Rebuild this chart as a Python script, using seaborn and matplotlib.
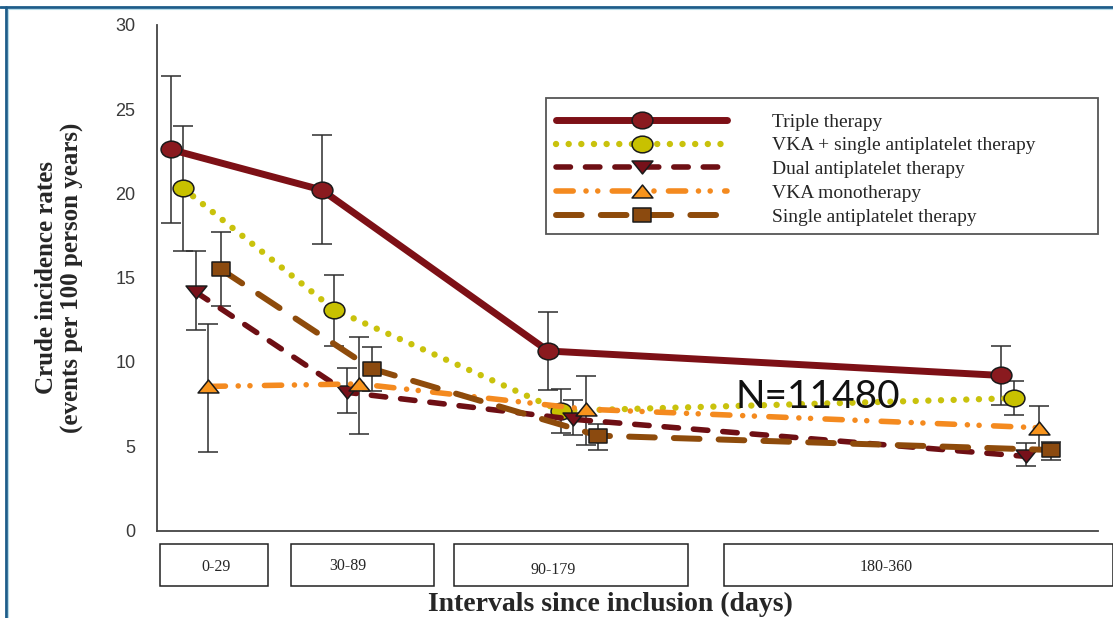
import matplotlib
matplotlib.use("Agg")
import matplotlib.pyplot as plt
from matplotlib.path import Path
from matplotlib.transforms import Affine2D
from matplotlib.lines import Line2D
from matplotlib.patches import Rectangle
import numpy as np
import pandas as pd
import seaborn as sns

# ---------------------------------------------------------------- data
intervals = ["0-29", "30-89", "90-179", "180-360"]
interval_pos = [0.0, 1.0, 2.5, 5.5]

therapies = [
    "Triple therapy",
    "VKA + single antiplatelet therapy",
    "Dual antiplatelet therapy",
    "VKA monotherapy",
    "Single antiplatelet therapy",
]

triple_rate = [22.6, 20.2, 10.65, 9.2]
triple_low = [18.25, 17.0, 8.33, 7.43]
triple_high = [26.97, 23.45, 12.94, 10.96]

vka_sapt_rate = [20.3, 13.1, 7.1, 7.85]
vka_sapt_low = [16.57, 10.96, 5.77, 6.87]
vka_sapt_high = [23.97, 15.17, 8.39, 8.85]

dapt_rate = [14.15, 8.2, 6.6, 4.4]
dapt_low = [11.89, 6.95, 5.65, 3.85]
dapt_high = [16.57, 9.62, 7.74, 5.17]

vka_mono_rate = [8.55, 8.7, 7.2, 6.1]
vka_mono_low = [4.68, 5.73, 5.06, 4.8]
vka_mono_high = [12.27, 11.46, 9.16, 7.39]

sapt_rate = [15.5, 9.6, 5.63, 4.78]
sapt_low = [13.31, 8.3, 4.78, 4.18]
sapt_high = [17.72, 10.9, 6.32, 5.27]

rates = [triple_rate, vka_sapt_rate, dapt_rate, vka_mono_rate, sapt_rate]
lows = [triple_low, vka_sapt_low, dapt_low, vka_mono_low, sapt_low]
highs = [triple_high, vka_sapt_high, dapt_high, vka_mono_high, sapt_high]

n_total = 11480

# ---------------------------------------------------------------- markers
def closed(verts):
    verts = list(verts) + [verts[0]]
    return Path(verts, closed=True)

ellipse = Affine2D().scale(1.0, 0.8).transform_path(Path.unit_circle())
tri_down = closed([(-1.0, 0.62), (1.0, 0.62), (0.0, -0.62)])
tri_up = closed([(-1.0, -0.62), (1.0, -0.62), (0.0, 0.62)])
square = closed([(-1.0, -0.78), (1.0, -0.78), (1.0, 0.78), (-1.0, 0.78)])

styles = [
    dict(color="#7d1016", face="#8a1a1f", lw=5.0, ls="-", marker=ellipse, ms=15),
    dict(color="#c9c20c", face="#c8c100", lw=4.6, ls=(0, (0.01, 1.97)), marker=ellipse, ms=15),
    dict(color="#6e0f14", face="#77111a", lw=4.0, ls=(0, (2.6, 2.7)), marker=tri_down, ms=15),
    dict(color="#f48a1f", face="#f7941d", lw=4.0, ls=(0, (3.1, 2.3, 0.01, 2.1, 0.01, 2.6)), marker=tri_up, ms=15),
    dict(color="#8e4b0b", face="#8b4a0f", lw=4.3, ls=(0, (4.3, 3.2)), marker=square, ms=13),
]

series_shift = 0.0828

records = []
for i, name in enumerate(therapies):
    for j, lab in enumerate(intervals):
        records.append(dict(therapy=name, interval=lab,
                            pos=interval_pos[j] + i * series_shift,
                            rate=rates[i][j], low=lows[i][j], high=highs[i][j]))
df = pd.DataFrame(records)

# ---------------------------------------------------------------- figure
sns.set_theme(style="white")
plt.rcParams["font.family"] = ["Liberation Serif", "DejaVu Serif"]

W, H = 1113, 618
fig = plt.figure(figsize=(W / 100, H / 100), dpi=100)
fig.patch.set_facecolor("white")

ax_l, ax_r, ax_t, ax_b = 157, 1098, 24.7, 530.6
ax = fig.add_axes([ax_l / W, 1 - ax_b / H, (ax_r - ax_l) / W, (ax_b - ax_t) / H])
ax.set_facecolor("white")

handles = []
for i, name in enumerate(therapies):
    sub = df[df["therapy"] == name]
    st = styles[i]
    ax.errorbar(sub["pos"], sub["rate"],
                yerr=[sub["rate"] - sub["low"], sub["high"] - sub["rate"]],
                fmt="none", ecolor="#2e2e2e", elinewidth=1.1,
                capsize=7, capthick=1.1, zorder=2)
    sns.lineplot(data=sub, x="pos", y="rate", ax=ax, errorbar=None,
                 color=st["color"], linewidth=st["lw"], linestyle=st["ls"],
                 marker=st["marker"], markersize=st["ms"],
                 markerfacecolor=st["face"], markeredgecolor="#1a1a1a",
                 markeredgewidth=1.1, dash_capstyle="round",
                 solid_capstyle="round", zorder=3 + i * 0.1)
    handles.append(ax.lines[-1])

ax.set_ylim(0, 30)
ax.set_xlim((ax_l - 170.7) / 151, (ax_r - 170.7) / 151)
ax.set_yticks(range(0, 31, 5))
ax.set_xticks([])
for side in ("top", "right"):
    ax.spines[side].set_visible(False)
for side in ("left", "bottom"):
    ax.spines[side].set_color("#444444")
    ax.spines[side].set_linewidth(1.3)
ax.tick_params(axis="y", direction="out", length=6.5, width=1.1, color="#444444",
               pad=9, labelsize=13, labelcolor="#3a3a3a")
for t in ax.get_yticklabels():
    t.set_family(["Liberation Sans", "DejaVu Sans"])

ax.set_ylabel("Crude incidence rates\n(events per 100 person years)",
              fontsize=18, fontweight="bold", linespacing=1.15)
ax.yaxis.set_label_coords((84 - ax_l) / (ax_r - ax_l), 0.5)

ax.set_xlabel("Intervals since inclusion (days)", fontsize=20, fontweight="bold")
ax.xaxis.set_label_coords((610 - ax_l) / (ax_r - ax_l), -(592 - ax_b) / (ax_b - ax_t))
ax.xaxis.label.set_va("top")

# interval boxes under the axis
box_edges = [(160, 268), (291, 434), (454, 688), (724, 1113)]
label_x = [216, 348, 553, 886]
label_y = [567, 566, 570, 567]
for (x0, x1), lab, lx, ly in zip(box_edges, intervals, label_x, label_y):
    fig.add_artist(Rectangle((x0 / W, 1 - 586 / H), (x1 - x0) / W, 42 / H,
                             transform=fig.transFigure, fill=False,
                             edgecolor="#222222", linewidth=1.1))
    fig.text(lx / W, 1 - ly / H, lab, ha="center", va="center", fontsize=11.5)

# legend: entries without frame, box drawn around them
leg = ax.legend(handles, therapies, loc="upper left",
                bbox_to_anchor=(556 / W, 1 - 113 / H),
                bbox_transform=fig.transFigure, borderaxespad=0, borderpad=0,
                handlelength=8.8, handletextpad=2.3, labelspacing=0.32,
                fontsize=14, frameon=False, numpoints=1)
fig.add_artist(Rectangle((546 / W, 1 - 234 / H), (1098 - 546) / W, (234 - 98) / H,
                         transform=fig.transFigure, fill=False,
                         edgecolor="#555555", linewidth=1.3, zorder=4))

fig.text(818 / W, 1 - 397 / H, f"N={n_total}", family=["Lato", "DejaVu Sans"],
         fontsize=28, ha="center", va="center", color="#111111")

# slide frame
fig.add_artist(Line2D([0, 1], [1 - 7 / H] * 2, transform=fig.transFigure,
                      color="#1d5d8a", linewidth=2))
fig.add_artist(Line2D([6 / W] * 2, [0, 1 - 7 / H], transform=fig.transFigure,
                      color="#1d5d8a", linewidth=2))
fig.add_artist(Line2D([7.5 / W, 1], [1 - 8.5 / H] * 2, transform=fig.transFigure,
                      color="#b5dbe8", linewidth=0.8))
fig.add_artist(Line2D([7.5 / W] * 2, [0, 1 - 8.5 / H], transform=fig.transFigure,
                      color="#b5dbe8", linewidth=0.8))

fig.savefig("out.png", dpi=100, facecolor="white")
